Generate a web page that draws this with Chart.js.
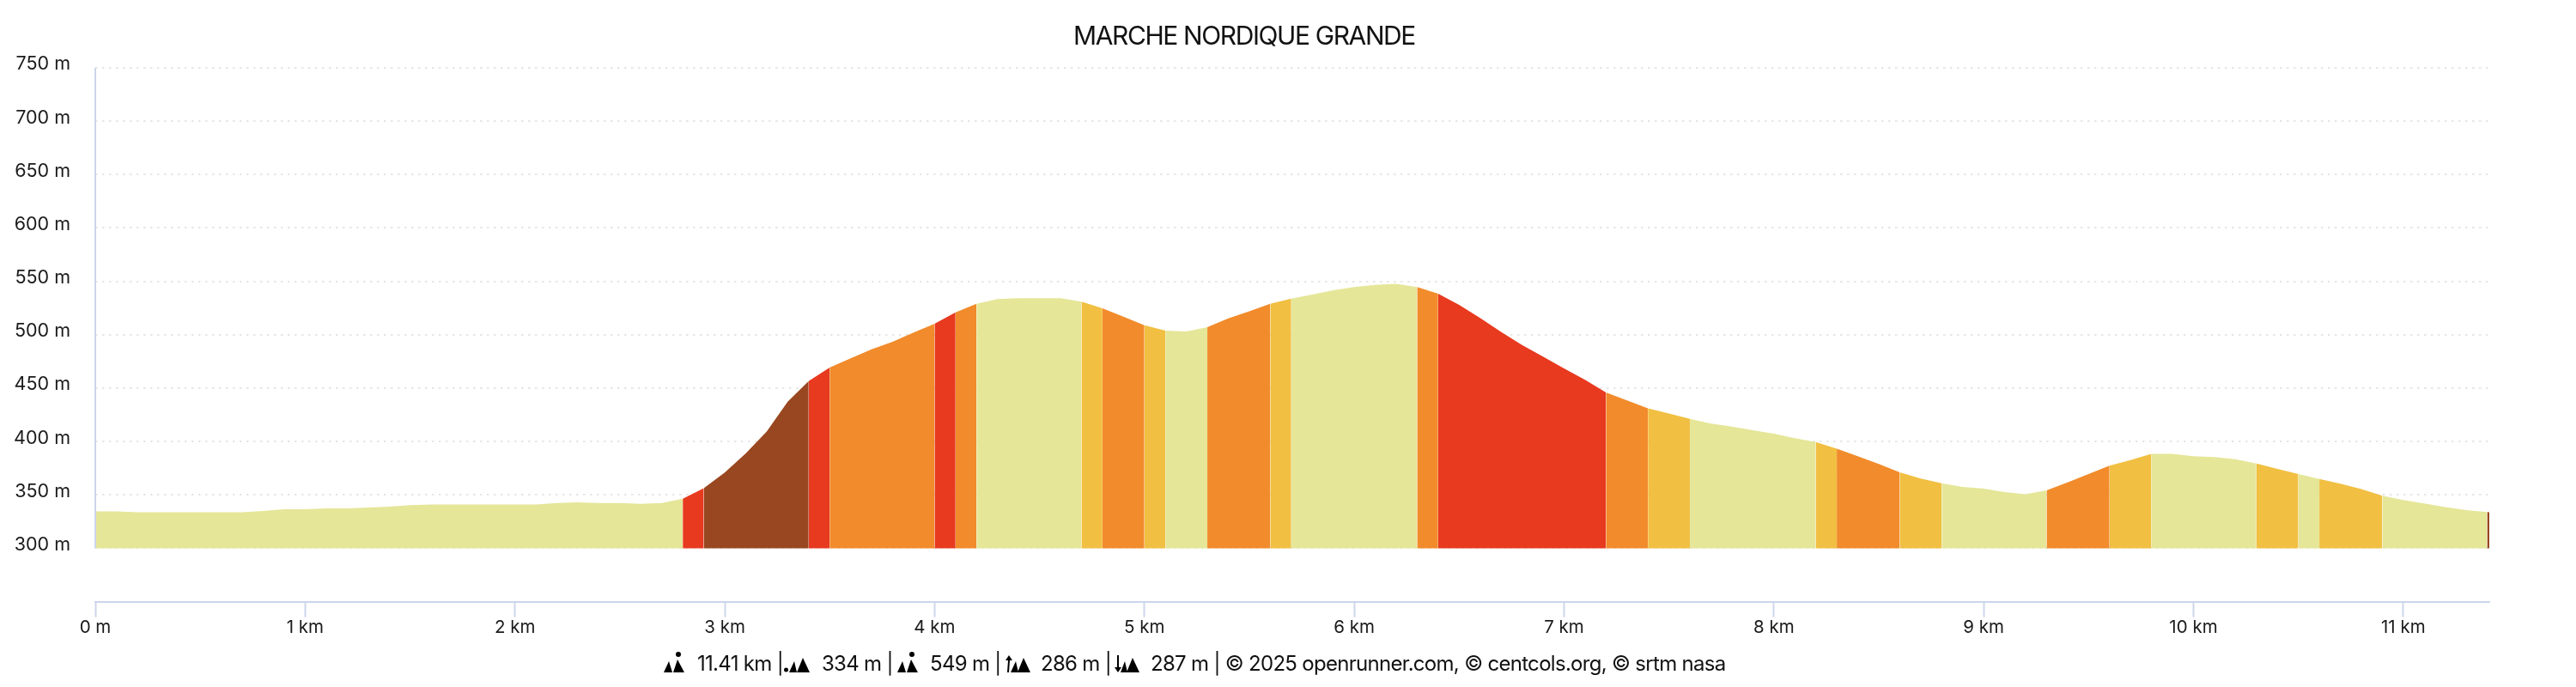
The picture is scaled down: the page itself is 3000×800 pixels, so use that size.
<!DOCTYPE html>
<html>
<head>
<meta charset="utf-8">
<title>MARCHE NORDIQUE GRANDE</title>
<script src="https://cdn.jsdelivr.net/npm/chart.js@4"></script>
<style>
  body { margin: 0; background: #fff; font-family: Inter, sans-serif; color: #111; }
  #wrap { position: relative; width: 3000px; height: 800px; overflow: hidden; }
  canvas { position: absolute; left: 0; top: 0; }
  #title { position: absolute; left: 1049px; width: 800px; top: 22px; margin: 0; text-align: center;
    font-size: 30px; line-height: 38px; font-weight: 400; letter-spacing: -1.4px; }
  #footer span { position: absolute; top: 757px; font-size: 24px; line-height: 32px; letter-spacing: -0.7px; white-space: pre; }
  #footer svg { position: absolute; top: 759px; width: 24px; height: 24px; }
  #footer svg.wide { width: 30px; }
</style>
</head>
<body>
<div id="wrap">
  <canvas id="profile" width="3000" height="800"></canvas>
  <h1 id="title">MARCHE NORDIQUE GRANDE</h1>
  <div id="footer">
    <svg style="left:773px" viewBox="0 0 24 24"><path d="M0 24 6 11 10 24ZM11 24 16 9 24 24Z"/><circle cx="17" cy="3" r="3"/></svg><span style="left:812px">11.41 km |</span>
    <svg class="wide" style="left:913px" viewBox="0 0 30 24"><path d="M6 24 12 11 15 24ZM15 24 22 7 30 24Z"/><circle cx="2.5" cy="21" r="2.5"/></svg><span style="left:957px">334 m |</span>
    <svg style="left:1045px" viewBox="0 0 24 24"><path d="M0 24 6 11 10 24ZM11 24 16 9 24 24Z"/><circle cx="17" cy="3" r="3"/></svg><span style="left:1083px">549 m |</span>
    <svg class="wide" style="left:1170px" viewBox="0 0 30 24"><path d="M3 24 4 10 1 10 5 4 9 10 6 10 5 24ZM7 24 13 11 16 24ZM15 24 22 7 30 24Z"/></svg><span style="left:1212px">286 m |</span>
    <svg class="wide" style="left:1297px" viewBox="0 0 30 24"><path d="M4 4 6 4 6 18 9 18 5 24 1 18 4 18ZM8 24 13 11 16 24ZM15 24 22 7 30 24Z"/></svg><span style="left:1340px">287 m | © 2025 openrunner.com, © centcols.org, © srtm nasa</span>
  </div>
</div>
<script>
const distances = [0, 0.1, 0.2, 0.3, 0.4, 0.5, 0.6, 0.7, 0.8, 0.9,
  1, 1.1, 1.2, 1.3, 1.4, 1.5, 1.6, 1.7, 1.8, 1.9,
  2, 2.1, 2.2, 2.3, 2.4, 2.5, 2.6, 2.7, 2.8, 2.9,
  3, 3.1, 3.2, 3.3, 3.4, 3.5, 3.6, 3.7, 3.8, 3.9,
  4, 4.1, 4.2, 4.3, 4.4, 4.5, 4.6, 4.7, 4.8, 4.9,
  5, 5.1, 5.2, 5.3, 5.4, 5.5, 5.6, 5.7, 5.8, 5.9,
  6, 6.1, 6.2, 6.3, 6.4, 6.5, 6.6, 6.7, 6.8, 6.9,
  7, 7.1, 7.2, 7.3, 7.4, 7.5, 7.6, 7.7, 7.8, 7.9,
  8, 8.1, 8.2, 8.3, 8.4, 8.5, 8.6, 8.7, 8.8, 8.9,
  9, 9.1, 9.2, 9.3, 9.4, 9.5, 9.6, 9.7, 9.8, 9.9,
  10, 10.1, 10.2, 10.3, 10.4, 10.5, 10.6, 10.7, 10.8, 10.9,
  11, 11.1, 11.2, 11.3, 11.4, 11.41];

const elevations = [334.5, 334.5, 333.7, 333.7, 333.7, 333.7, 333.7, 333.7, 335, 336.6,
  336.6, 337.4, 337.4, 338.2, 339, 340.3, 341, 341, 341, 341,
  341, 341, 342.3, 343, 342.3, 342.3, 341.5, 342.3, 346.4, 356.3,
  371, 388.8, 409.3, 437.3, 456.6, 469.3, 478, 486.4, 493.4, 502,
  510.3, 521, 529, 533.5, 534.3, 534.3, 534.3, 531, 524.8, 517,
  508.8, 503.9, 503, 507, 515.4, 522, 529, 533.9, 537.6, 541.7,
  544.6, 546.6, 547.8, 544.6, 538.4, 528, 515.8, 502.6, 490.3, 479.6,
  468.5, 457.8, 446, 438.5, 431, 426.2, 421.2, 416.7, 413.9, 410.6,
  407.3, 403.2, 399.5, 393.3, 386.3, 378.9, 371.1, 365.4, 360.8, 357.5,
  355.9, 352.6, 350.6, 354.3, 361.7, 369.5, 377.3, 382.6, 388.4, 388.4,
  386.3, 385.5, 383.4, 379.3, 374.4, 369.5, 364.9, 360.4, 355.5, 349.3,
  345.2, 341.9, 338.6, 335.8, 334, 333.7];

// km where each slope band starts, and the slope class of that band
const bandStarts = [0, 2.8, 2.9, 3.4, 3.5, 4, 4.1, 4.2, 4.7, 4.8, 5, 5.1, 5.3, 5.6, 5.7, 6.3, 6.4,
  7.2, 7.4, 7.6, 8.2, 8.3, 8.6, 8.8, 9.3, 9.6, 9.8, 10.3, 10.5, 10.6, 10.9, 11.4];
const bandSlopes = [0, 3, 4, 3, 2, 3, 2, 0, 1, 2, 1, 0, 2, 1, 0, 2, 3,
  2, 1, 0, 1, 2, 1, 0, 2, 1, 0, 1, 0, 1, 0, 4];

const slopeColors = ['#E5E698', '#F1BF42', '#F18B2B', '#E73A1F', '#994720'];
const axisColor = '#CCD6EB';

function bandColor(ctx) {
  const km = distances[ctx.p0DataIndex];
  let band = 0;
  bandStarts.forEach((start, i) => { if (start <= km) band = i; });
  return slopeColors[bandSlopes[band]];
}

// the y axis line stops at 300 m, the scale goes on below it to leave room above the x axis
const yAxisLine = {
  id: 'yAxisLine',
  afterDraw(chart) {
    const { ctx, chartArea, scales } = chart;
    ctx.save();
    ctx.strokeStyle = axisColor;
    ctx.lineWidth = 2;
    ctx.beginPath();
    ctx.moveTo(chartArea.left, scales.y.getPixelForValue(750));
    ctx.lineTo(chartArea.left, scales.y.getPixelForValue(300));
    ctx.stroke();
    ctx.restore();
  }
};

new Chart(document.getElementById('profile'), {
  type: 'line',
  data: {
    datasets: [{
      data: distances.map((km, i) => ({ x: km, y: elevations[i] })),
      borderWidth: 0,
      pointRadius: 0,
      tension: 0,
      fill: { value: 300 },
      backgroundColor: slopeColors[0],
      segment: { backgroundColor: bandColor }
    }]
  },
  plugins: [yAxisLine],
  options: {
    responsive: false,
    animation: false,
    devicePixelRatio: 1,
    layout: { padding: { top: 79, right: 101 } },
    plugins: { legend: { display: false }, tooltip: { enabled: false } },
    scales: {
      x: {
        type: 'linear',
        min: 0,
        max: 11.41,
        afterFit: (scale) => { scale.height = 99.4; },
        border: { color: axisColor, width: 2 },
        grid: { drawOnChartArea: false, tickColor: axisColor, tickWidth: 2, tickLength: 18 },
        ticks: {
          stepSize: 1,
          includeBounds: false,
          autoSkip: false,
          maxRotation: 0,
          padding: 0,
          color: '#1a1a1a',
          font: { family: 'Inter', size: 20.5 },
          callback: (v) => (v === 0 ? '0 m' : v + ' km')
        }
      },
      y: {
        min: 250,
        max: 750,
        afterFit: (scale) => { scale.width = 111; },
        border: { display: false, dash: [2.5, 5.5] },
        grid: {
          drawTicks: false,
          lineWidth: 2,
          color: (ctx) => (ctx.tick.value === 250 ? 'transparent' : '#E6E6E6')
        },
        ticks: {
          stepSize: 50,
          padding: 29,
          labelOffset: -4,
          color: '#1a1a1a',
          font: { family: 'Inter', size: 21.5 },
          callback: (v) => (v === 250 ? '' : v + ' m')
        }
      }
    }
  }
});
</script>
</body>
</html>
